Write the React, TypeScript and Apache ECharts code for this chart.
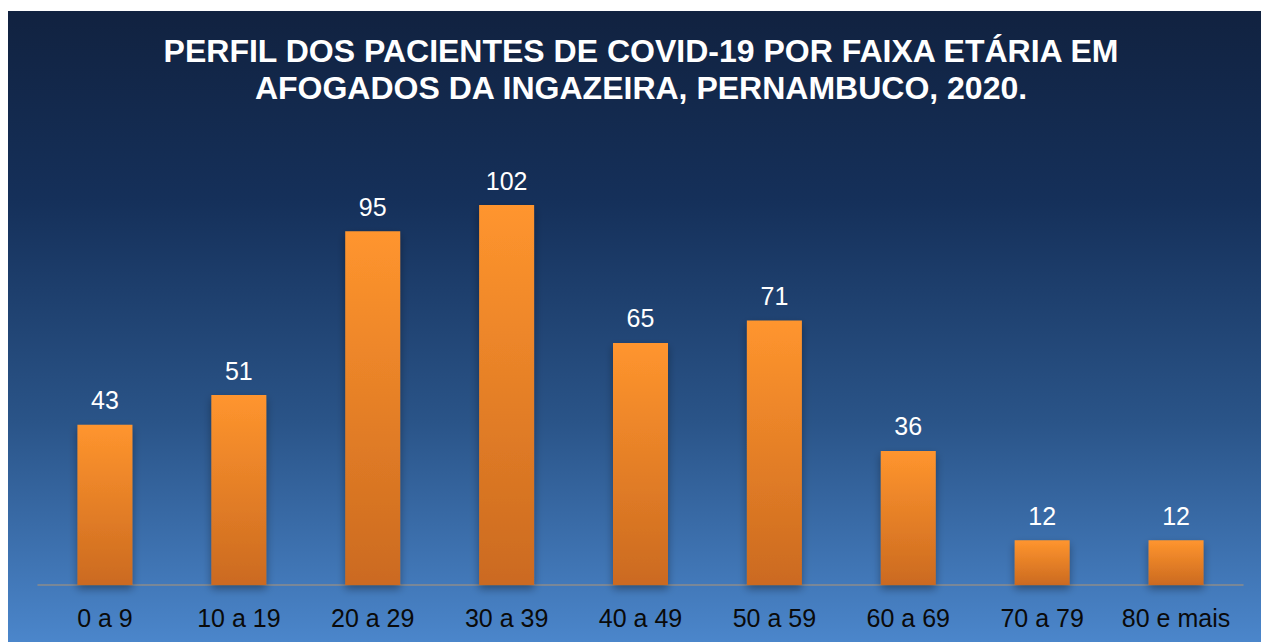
import React, { useEffect, useRef } from "react";
import * as echarts from "echarts";

const titleLines = [
  "PERFIL DOS PACIENTES DE COVID-19 POR FAIXA ETÁRIA EM",
  "AFOGADOS DA INGAZEIRA, PERNAMBUCO, 2020.",
];
const categories = [
  "0 a 9",
  "10 a 19",
  "20 a 29",
  "30 a 39",
  "40 a 49",
  "50 a 59",
  "60 a 69",
  "70 a 79",
  "80 e mais",
];
const values = [43, 51, 95, 102, 65, 71, 36, 12, 12];

export default function App() {
  const ref = useRef<HTMLDivElement>(null);
  useEffect(() => {
    if (!ref.current) return;
    const chart = echarts.init(ref.current, null, { renderer: "svg" });
    chart.setOption({
      animation: false,
      backgroundColor: new echarts.graphic.LinearGradient(0, 0, 0, 1, [
        { offset: 0, color: "#112240" },
        { offset: 0.3, color: "#15305a" },
        { offset: 0.65, color: "#2a5488" },
        { offset: 1, color: "#4b86cb" },
      ]),
      graphic: [
        {
          type: "text",
          x: 633,
          y: 40,
          style: {
            text: titleLines[0],
            font: "bold 32px 'Liberation Sans', Arial, sans-serif",
            fill: "#ffffff",
            textAlign: "center",
            textVerticalAlign: "middle",
          },
        },
        {
          type: "text",
          x: 633,
          y: 77,
          style: {
            text: titleLines[1],
            font: "bold 32px 'Liberation Sans', Arial, sans-serif",
            fill: "#ffffff",
            textAlign: "center",
            textVerticalAlign: "middle",
          },
        },
      ],
      grid: { left: 30, right: 18, top: 127, bottom: 57, containLabel: false },
      xAxis: {
        type: "category",
        data: categories,
        axisLine: { show: true, lineStyle: { color: "#8c8c8c", width: 1.5 } },
        axisTick: { show: false },
        axisLabel: {
          color: "#0a0a0a",
          fontSize: 25,
          fontFamily: "'Liberation Sans', Arial, sans-serif",
          margin: 20,
          interval: 0,
        },
      },
      yAxis: {
        type: "value",
        min: 0,
        max: 120,
        show: false,
        splitLine: { show: false },
      },
      series: [
        {
          type: "bar",
          data: values,
          barWidth: 55,
          itemStyle: {
            color: new echarts.graphic.LinearGradient(0, 0, 0, 1, [
              { offset: 0, color: "#ff952e" },
              { offset: 1, color: "#cb6a20" },
            ]),
            shadowColor: "rgba(0,0,0,0.35)",
            shadowBlur: 8,
            shadowOffsetY: 4,
          },
          label: {
            show: true,
            position: "top",
            distance: 12,
            color: "#ffffff",
            fontSize: 25,
            fontFamily: "'Liberation Sans', Arial, sans-serif",
          },
        },
      ],
    });
    return () => chart.dispose();
  }, []);
  return (
    <div
      ref={ref}
      style={{ position: "fixed", left: 8, top: 11, width: 1253, height: 631 }}
    />
  );
}
